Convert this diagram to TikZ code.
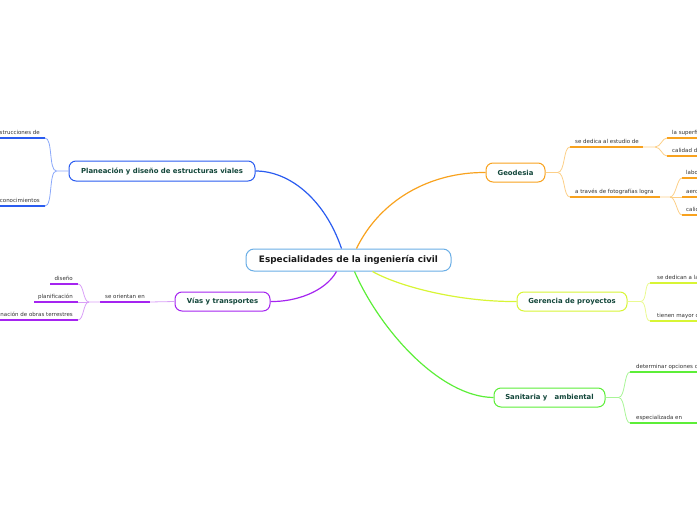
\documentclass[tikz,border=0pt]{standalone}
\usepackage{fontspec}
\setmainfont{DejaVu Sans}
\usetikzlibrary{calc}
\definecolor{cenC}{HTML}{6AAEE6}
\definecolor{planC}{HTML}{2A5CF0}
\definecolor{planL}{HTML}{8AA8FA}
\definecolor{geoC}{HTML}{F8A21E}
\definecolor{geoL}{HTML}{FCCF88}
\definecolor{viaC}{HTML}{A524F0}
\definecolor{viaL}{HTML}{D9A0F7}
\definecolor{gerC}{HTML}{D8F535}
\definecolor{gerL}{HTML}{EAFA90}
\definecolor{sanC}{HTML}{5CEE38}
\definecolor{sanL}{HTML}{A8F596}
\definecolor{titleC}{HTML}{12463A}
\definecolor{leafT}{HTML}{333333}
\newcommand\cenfont{\bfseries\fontsize{8.9}{10}\selectfont}
\newcommand\topicfont{\bfseries\fontsize{6.9}{8}\selectfont}
\newcommand\leaffont{\fontsize{5.5}{6.5}\selectfont}
\tikzset{
  mainbox/.style={draw, rounded corners=7pt, line width=1pt, fill=white, inner sep=0pt, text=titleC, font=\topicfont, minimum height=19pt},
  trunk/.style={line width=1.2pt},
  under/.style={line width=1.5pt},
  thin/.style={line width=0.8pt},
  leafR/.style={anchor=south west, inner xsep=5pt, inner ysep=2.2pt, text height=4pt, text depth=1pt, font=\leaffont, text=leafT},
  leafL/.style={anchor=south east, inner xsep=5pt, inner ysep=2.2pt, text height=4pt, text depth=1pt, font=\leaffont, text=leafT},
  leafC/.style={anchor=south, inner xsep=0pt, inner ysep=2.2pt, text height=4pt, text depth=1pt, font=\leaffont, text=leafT}
}
\begin{document}
\begin{tikzpicture}[x=1pt,y=-1pt]
\useasboundingbox (0,0) rectangle (697,520);
\clip (0,0) rectangle (697,520);
% central and topics
\node[mainbox, draw=cenC, text=black!90, font=\cenfont, minimum width=205pt, minimum height=22pt, rounded corners=8pt] (cen) at (348.5,260) {Especialidades de la ingeniería civil};
\node[mainbox, draw=planC, minimum width=186pt, minimum height=20pt] (plan) at (162,171) {Planeación y diseño de estructuras viales};
\node[mainbox, draw=viaC, minimum width=95pt] (vias) at (222.5,301.5) {Vías y transportes};
\node[mainbox, draw=geoC, minimum width=59pt] (geo) at (515.5,172.5) {Geodesia};
\node[mainbox, draw=gerC, minimum width=110pt] (ger) at (572,301.5) {Gerencia de proyectos};
\node[mainbox, draw=sanC, minimum width=111pt] (san) at (549.5,397.5) {Sanitaria y \ \ ambiental};
% trunks
\draw[trunk, planC] ($(cen.north west)+(96,0)$) .. controls (325,200) and (290,171) .. (plan.east);
\draw[trunk, geoC] ($(cen.north west)+(111,0)$) .. controls (380,200) and (430,172) .. (geo.west);
\draw[trunk, viaC] ($(cen.south west)+(91,0)$) .. controls (325,292) and (295,302) .. (vias.east);
\draw[trunk, gerC] ($(cen.south west)+(127,0)$) .. controls (400,287) and (460,302) .. (ger.west);
\draw[trunk, sanC] ($(cen.south west)+(109,0)$) .. controls (380,330) and (440,397) .. (san.west);
% Planeacion leaves
\node[leafL] (p1) at (45,138) {strucciones de};
\node[leafL] (p2) at (45,206) {conocimientos};
\draw[under, planC] (p1.south east) -- ++(-60,0);
\draw[under, planC] (p2.south east) -- ++(-60,0);
\draw[thin, planL] (plan.west) -- ++(-12,0) coordinate (pj) .. controls ++(-8,0) and ++(8,0) .. (p1.south east);
\draw[thin, planL] (pj) .. controls ++(-8,0) and ++(8,0) .. (p2.south east);
% Vias leaves
\node[leafC] (v0) at (125,302) {se orientan en};
\coordinate (v0r) at (150,302);
\coordinate (v0l) at (100,302);
\draw[under, viaC] (v0l) -- (v0r);
\draw[thin, viaL] (vias.west) -- (v0r);
\node[leafL] (v1) at (78,284) {diseño};
\node[leafL] (v2) at (78,302) {planificación};
\node[leafL] (v3) at (78,320) {nación de obras terrestres};
\draw[under, viaC] (v1.south east) -- ++(-28,0);
\draw[under, viaC] (v2.south east) -- ++(-44,0);
\draw[under, viaC] (v3.south east) -- ++(-90,0);
\draw[thin, viaL] (v0l) -- ++(-11,0) coordinate (vj) .. controls ++(-6,0) and ++(6,0) .. (v1.south east);
\draw[thin, viaL] (vj) -- (v2.south east);
\draw[thin, viaL] (vj) .. controls ++(-6,0) and ++(6,0) .. (v3.south east);
% Geodesia leaves
\node[leafR] (g1) at (570,147) {se dedica al estudio de};
\node[leafR] (g2) at (570,197) {a través de fotografías logra};
\draw[under, geoC] (g1.south west) -- ++(73,0) coordinate (g1e);
\draw[under, geoC] (g2.south west) -- ++(90,0) coordinate (g2e);
\draw[thin, geoL] (geo.east) -- ++(12,0) coordinate (gj) .. controls ++(8,0) and ++(-7,0) .. (g1.south west);
\draw[thin, geoL] (gj) .. controls ++(8,0) and ++(-7,0) .. (g2.south west);
\node[leafR] (g11) at (667,138) {la superfi};
\node[leafR] (g12) at (667,156) {calidad de};
\draw[under, geoC] (g11.south west) -- ++(60,0);
\draw[under, geoC] (g12.south west) -- ++(60,0);
\draw[thin, geoL] (g1e) -- ++(12,0) coordinate (g1j) .. controls ++(6,0) and ++(-5,0) .. (g11.south west);
\draw[thin, geoL] (g1j) .. controls ++(6,0) and ++(-5,0) .. (g12.south west);
\node[leafR, inner xsep=4pt] (g21) at (682,178) {labo};
\node[leafR, inner xsep=4pt] (g22) at (682,197) {aero};
\node[leafR, inner xsep=4pt] (g23) at (682,215) {calid};
\draw[under, geoC] (g21.south west) -- ++(40,0);
\draw[under, geoC] (g22.south west) -- ++(40,0);
\draw[under, geoC] (g23.south west) -- ++(40,0);
\draw[thin, geoL] (g2e) -- ++(10,0) coordinate (g2j) .. controls ++(6,0) and ++(-5,0) .. (g21.south west);
\draw[thin, geoL] (g2j) -- (g22.south west);
\draw[thin, geoL] (g2j) .. controls ++(6,0) and ++(-5,0) .. (g23.south west);
% Gerencia leaves
\node[leafR, inner xsep=7pt] (r1) at (650,283) {se dedican a la};
\node[leafR, inner xsep=7pt] (r2) at (650,321) {tienen mayor c};
\draw[under, gerC] (r1.south west) -- ++(80,0);
\draw[under, gerC] (r2.south west) -- ++(80,0);
\draw[thin, gerL] (ger.east) -- ++(13,0) coordinate (rj) .. controls ++(7,0) and ++(-6,0) .. (r1.south west);
\draw[thin, gerL] (rj) .. controls ++(7,0) and ++(-6,0) .. (r2.south west);
% Sanitaria leaves
\node[leafR, inner xsep=6pt] (s1) at (630,372) {determinar opciones c};
\node[leafR, inner xsep=6pt] (s2) at (630,423) {especializada en};
\draw[under, sanC] (s1.south west) -- ++(100,0);
\draw[under, sanC] (s2.south west) -- ++(100,0);
\draw[thin, sanL] (san.east) -- ++(13,0) coordinate (sj) .. controls ++(7,0) and ++(-6,0) .. (s1.south west);
\draw[thin, sanL] (sj) .. controls ++(7,0) and ++(-6,0) .. (s2.south west);
\end{tikzpicture}
\end{document}
